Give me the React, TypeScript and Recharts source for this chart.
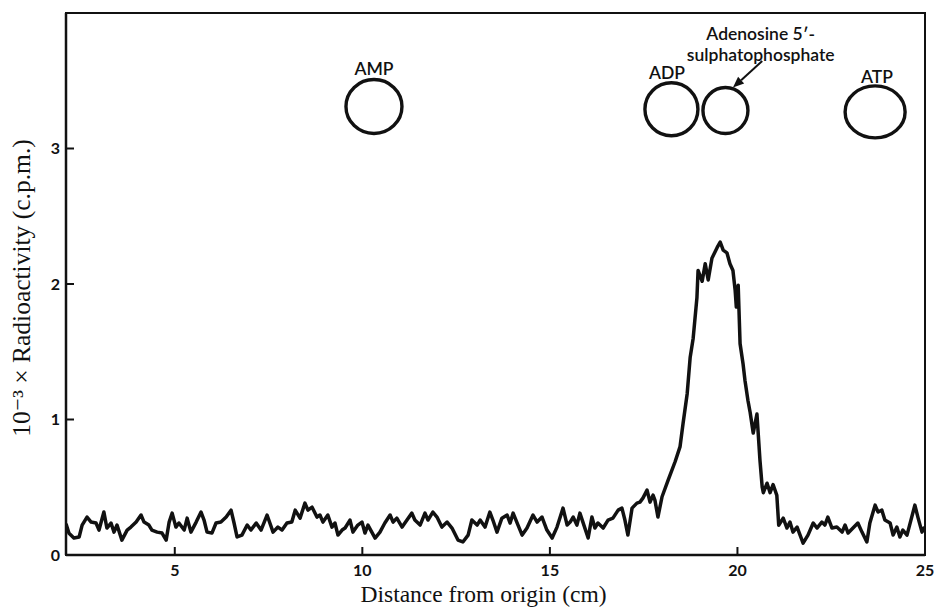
import React from 'react';
import { LineChart, Line, XAxis, YAxis, ReferenceDot, ReferenceLine, ReferenceArea } from 'recharts';

const distanceCm = [
  2.1, 2.18, 2.31, 2.45, 2.53, 2.66, 2.77, 2.9, 2.98, 3.11, 3.19, 3.3, 3.38, 3.46, 3.59, 3.73, 3.83, 3.97,
  4.1, 4.18, 4.31, 4.39, 4.53, 4.66, 4.77, 4.85, 4.93, 5.03, 5.11, 5.25, 5.33, 5.43, 5.57, 5.7, 5.78, 5.86,
  5.99, 6.1, 6.23, 6.37, 6.5, 6.58, 6.66, 6.79, 6.93, 7.03, 7.17, 7.3, 7.46, 7.62, 7.75, 7.86, 7.99, 8.12,
  8.21, 8.34, 8.47, 8.55, 8.66, 8.79, 8.87, 8.95, 9.08, 9.19, 9.27, 9.35, 9.46, 9.54, 9.67, 9.75, 9.88, 9.99,
  10.07, 10.15, 10.34, 10.47, 10.6, 10.74, 10.82, 10.92, 11.06, 11.19, 11.32, 11.4, 11.54, 11.67, 11.75,
  11.88, 11.99, 12.12, 12.26, 12.39, 12.55, 12.68, 12.82, 12.92, 13.06, 13.14, 13.27, 13.4, 13.48, 13.59,
  13.72, 13.86, 13.94, 14.02, 14.15, 14.26, 14.39, 14.55, 14.66, 14.79, 14.92, 15.06, 15.19, 15.35, 15.46,
  15.54, 15.62, 15.72, 15.8, 15.88, 16.02, 16.12, 16.2, 16.28, 16.42, 16.55, 16.68, 16.82, 16.92, 17.0,
  17.08, 17.19, 17.32, 17.4, 17.48, 17.59, 17.67, 17.75, 17.8, 17.88, 17.99, 18.15, 18.34, 18.47, 18.55,
  18.66, 18.74, 18.82, 18.92, 18.95, 19.06, 19.14, 19.22, 19.32, 19.46, 19.54, 19.62, 19.72, 19.8, 19.88,
  19.94, 19.97, 20.02, 20.07, 20.15, 20.2, 20.28, 20.34, 20.42, 20.52, 20.6, 20.66, 20.69, 20.79, 20.87,
  20.95, 21.05, 21.1, 21.22, 21.32, 21.4, 21.48, 21.59, 21.75, 21.88, 22.02, 22.12, 22.25, 22.33, 22.41,
  22.52, 22.65, 22.79, 22.87, 22.95, 23.08, 23.21, 23.32, 23.45, 23.53, 23.67, 23.75, 23.85, 23.93, 24.07,
  24.15, 24.25, 24.33, 24.41, 24.52, 24.73, 24.81, 24.92, 24.97, 25.0,
];

const radioactivity = [
  0.23, 0.16, 0.125, 0.133, 0.221, 0.28, 0.243, 0.236, 0.184, 0.317, 0.199, 0.236, 0.169, 0.221, 0.11, 0.184, 0.206, 0.243,
  0.295, 0.243, 0.221, 0.184, 0.169, 0.162, 0.11, 0.243, 0.309, 0.206, 0.236, 0.184, 0.272, 0.169, 0.243, 0.317, 0.258, 0.169,
  0.162, 0.236, 0.243, 0.28, 0.331, 0.236, 0.133, 0.147, 0.221, 0.184, 0.236, 0.184, 0.295, 0.169, 0.206, 0.184, 0.236, 0.243,
  0.331, 0.272, 0.383, 0.331, 0.353, 0.28, 0.295, 0.243, 0.295, 0.206, 0.236, 0.147, 0.184, 0.199, 0.258, 0.169, 0.221, 0.243,
  0.162, 0.221, 0.125, 0.169, 0.236, 0.295, 0.243, 0.272, 0.206, 0.258, 0.309, 0.258, 0.221, 0.309, 0.258,
  0.317, 0.28, 0.206, 0.243, 0.199, 0.11, 0.096, 0.147, 0.258, 0.221, 0.258, 0.206, 0.317, 0.258, 0.169,
  0.272, 0.295, 0.236, 0.309, 0.221, 0.147, 0.199, 0.295, 0.243, 0.28, 0.184, 0.125, 0.206, 0.346, 0.221,
  0.243, 0.28, 0.221, 0.309, 0.243, 0.125, 0.28, 0.199, 0.236, 0.199, 0.258, 0.272, 0.331, 0.346, 0.258,
  0.147, 0.346, 0.383, 0.39, 0.42, 0.479, 0.39, 0.442, 0.405, 0.28, 0.43, 0.55, 0.69, 0.8, 0.97,
  1.19, 1.46, 1.6, 1.9, 2.1, 2.02, 2.15, 2.03, 2.19, 2.27, 2.31, 2.25, 2.23, 2.15, 2.1,
  1.95, 1.83, 1.99, 1.56, 1.41, 1.29, 1.14, 1.05, 0.9, 1.04, 0.7, 0.5, 0.46, 0.53, 0.46,
  0.52, 0.44, 0.22, 0.272, 0.199, 0.243, 0.169, 0.206, 0.088, 0.147, 0.236, 0.199, 0.243, 0.221, 0.28,
  0.199, 0.206, 0.169, 0.221, 0.162, 0.199, 0.236, 0.169, 0.096, 0.236, 0.368, 0.317, 0.331, 0.258, 0.236,
  0.147, 0.206, 0.133, 0.184, 0.147, 0.368, 0.28, 0.169, 0.199, 0.19,
];

const xTicks = [5, 10, 15, 20, 25];
const yTicks = [0, 1, 2, 3];

// Spots on the chromatogram (centres, in chart units)
const spotNames = ['AMP', 'ADP', 'Adenosine 5′-sulphatophosphate', 'ATP'];
const spotX = [10.31, 18.24, 19.68, 23.67];
const spotY = [3.31, 3.29, 3.28, 3.27];

// Spot label texts and their anchor points (chart units)
const labelTexts = ['AMP', 'ADP', 'ATP', 'Adenosine 5′-', 'sulphatophosphate'];
const labelX = [10.31, 18.12, 23.72, 20.62, 20.62];
const labelY = [3.59, 3.56, 3.535, 3.85, 3.695];

const arrowFrom = { x: 20.66, y: 3.645 };
const arrowTo = { x: 19.88, y: 3.45 };

const data = distanceCm.map((x, i) => ({ x, y: radioactivity[i] }));

const spotRadii = [
  [28, 27],
  [26.5, 26.5],
  [22.5, 23],
  [30, 26],
];

const ink = '#111';

export default function App() {
  return (
    <div style={{ position: 'absolute', left: 0, top: 0, background: '#fff' }}>
      <LineChart
        width={935}
        height={609}
        data={data}
        margin={{ top: 13, right: 10, bottom: 0, left: 0 }}
      >
        <XAxis
          dataKey="x"
          type="number"
          domain={[2.1, 25]}
          ticks={xTicks}
          allowDataOverflow
          height={54}
          tickSize={-8}
          tickMargin={18}
          axisLine={{ stroke: ink, strokeWidth: 2.5 }}
          tickLine={{ stroke: ink, strokeWidth: 2 }}
          tick={{ fontFamily: 'Lato', fontSize: 16, fontWeight: 700, fill: ink }}
          label={{
            content: ({ viewBox }: any) => (
              <text
                x={viewBox.x + viewBox.width / 2 - 12}
                y={602}
                textAnchor="middle"
                fontFamily="'Liberation Serif', 'DejaVu Serif', serif"
                fontSize={23.5}
                fill={ink}
              >
                Distance from origin (cm)
              </text>
            ),
          }}
        />
        <YAxis
          dataKey="y"
          type="number"
          domain={[0, 4]}
          ticks={yTicks}
          allowDataOverflow
          width={66}
          tickSize={-8}
          tickMargin={14}
          axisLine={{ stroke: ink, strokeWidth: 2.5 }}
          tickLine={{ stroke: ink, strokeWidth: 2 }}
          tick={{ fontFamily: 'Lato', fontSize: 16, fontWeight: 700, fill: ink }}
          label={{
            content: () => (
              <text
                x={0}
                y={0}
                transform="translate(30, 288) rotate(-90)"
                textAnchor="middle"
                fontFamily="'Liberation Serif', 'DejaVu Serif', serif"
                fontSize={25.5}
                fill={ink}
              >
                10⁻³ × Radioactivity (c.p.m.)
              </text>
            ),
          }}
        />
        <ReferenceArea
          x1={2.1}
          x2={25}
          y1={0}
          y2={4}
          fill="none"
          stroke={ink}
          strokeWidth={2}
          ifOverflow="visible"
        />
        {spotNames.map((name, i) => (
          <ReferenceDot
            key={name}
            x={spotX[i]}
            y={spotY[i]}
            r={spotRadii[i][0]}
            ifOverflow="visible"
            shape={(p: any) => (
              <ellipse
                cx={p.cx}
                cy={p.cy}
                rx={spotRadii[i][0]}
                ry={spotRadii[i][1]}
                fill="none"
                stroke={ink}
                strokeWidth={3.4}
              />
            )}
          />
        ))}
        {labelTexts.map((t, i) => (
          <ReferenceDot
            key={t}
            x={labelX[i]}
            y={labelY[i]}
            r={1}
            ifOverflow="visible"
            shape={(p: any) => (
              <text
                x={p.cx}
                y={p.cy}
                textAnchor="middle"
                dominantBaseline="central"
                fontFamily="Lato, 'Open Sans', sans-serif"
                fontSize={17.5}
                fontWeight={600}
                fill={ink}
              >
                {t}
              </text>
            )}
          />
        ))}
        <ReferenceLine
          segment={[arrowFrom, arrowTo]}
          ifOverflow="visible"
          shape={(p: any) => {
            const { x1, y1, x2, y2 } = p;
            const dx = x2 - x1;
            const dy = y2 - y1;
            const len = Math.sqrt(dx * dx + dy * dy) || 1;
            const ux = dx / len;
            const uy = dy / len;
            const hl = 11;
            const hw = 4.5;
            const bx = x2 - ux * hl;
            const by = y2 - uy * hl;
            const pts = `${x2},${y2} ${bx - uy * hw},${by + ux * hw} ${bx + uy * hw},${by - ux * hw}`;
            return (
              <g>
                <line x1={x1} y1={y1} x2={bx} y2={by} stroke={ink} strokeWidth={2} />
                <polygon points={pts} fill={ink} />
              </g>
            );
          }}
        />
        <Line
          type="linear"
          dataKey="y"
          stroke={ink}
          strokeWidth={3.5}
          strokeLinejoin="round"
          dot={false}
          isAnimationActive={false}
        />
      </LineChart>
    </div>
  );
}
